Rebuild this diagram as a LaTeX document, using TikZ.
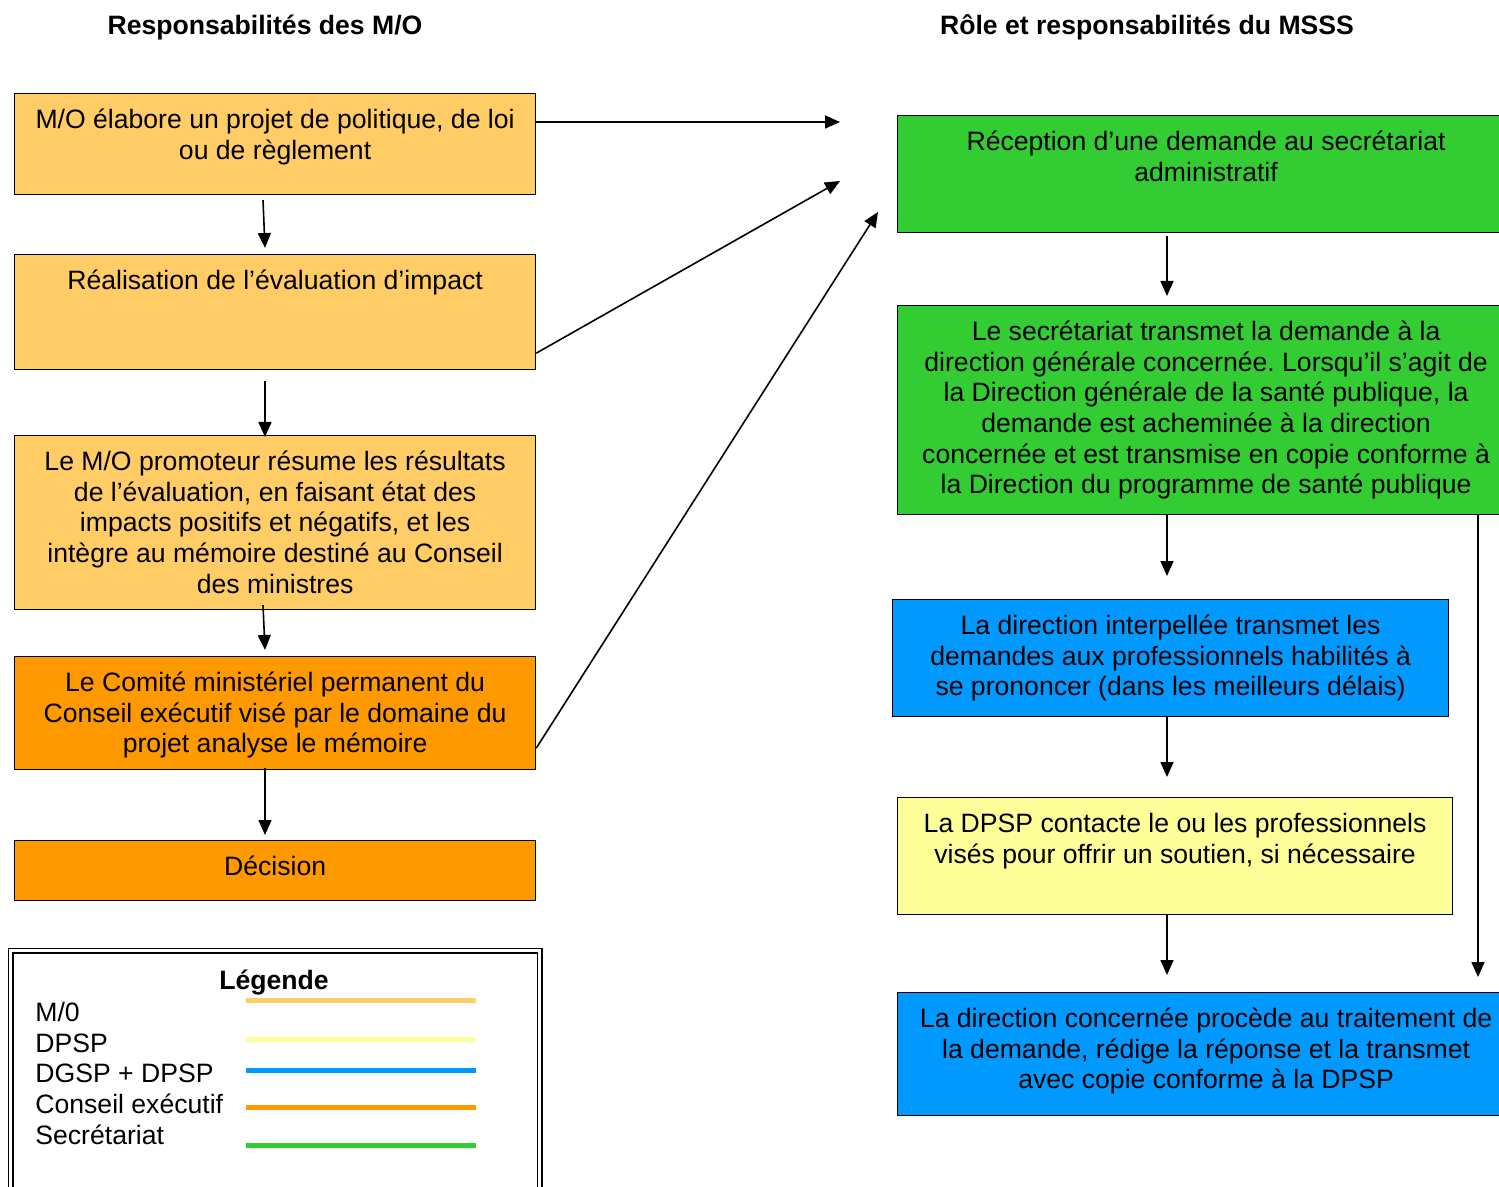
\documentclass[tikz,border=0pt]{standalone}
\usepackage{fontspec}
\setmainfont{Liberation Sans}
\usepackage{tikz}
\usetikzlibrary{arrows.meta, positioning, calc}
\definecolor{moclair}{HTML}{FFCC66}
\definecolor{conseilorange}{HTML}{FF9900}
\definecolor{secvert}{HTML}{33CC33}
\definecolor{dgspbleu}{HTML}{0099FF}
\definecolor{dpspjaune}{HTML}{FFFF99}
\newcommand{\corps}{\fontsize{13.3pt}{15.35pt}\selectfont}
\frenchspacing
\tikzset{
  boite/.style={draw, line width=0.6pt, anchor=north west, inner sep=0pt, minimum width=260.5pt},
  texte/.style={align=center, inner sep=0pt, font=\corps},
  fleche/.style={-{Triangle[length=7.5pt,width=6.5pt]}, line width=0.8pt},
  legtrait/.style={line width=2.5pt},
}

\begin{document}
\begin{tikzpicture}[x=0.5pt, y=-0.5pt]
  \useasboundingbox (0,0) rectangle (1499,1187);
  % titres des deux colonnes
  \node[texte, font=\corps\bfseries] (titreg) at (265,27.5) {Responsabilités des M/O};
  \node[texte, font=\corps\bfseries] (titred) at (1147,27.5) {Rôle et responsabilités du MSSS};

  % colonne M/O
  \node[boite, fill=moclair, minimum height=50.5pt] (mo1) at (14,93) {};
  \node[texte, below=6.75pt of mo1.north] (tmo1) {\strut M/O élabore un projet de politique, de loi\\ ou de règlement};
  \node[boite, fill=moclair, minimum height=57.5pt] (mo2) at (14,254) {};
  \node[texte, below=6.75pt of mo2.north] (tmo2) {\strut Réalisation de l’évaluation d’impact};
  \node[boite, fill=moclair, minimum height=87pt] (mo3) at (14,435) {};
  \node[texte, below=6.75pt of mo3.north] (tmo3) {\strut Le M/O promoteur résume les résultats\\ de l’évaluation, en faisant état des\\ impacts positifs et négatifs, et les\\ intègre au mémoire destiné au Conseil\\ des ministres};
  \node[boite, fill=conseilorange, minimum height=56.5pt] (mo4) at (14,656) {};
  \node[texte, below=6.75pt of mo4.north] (tmo4) {\strut Le Comité ministériel permanent du\\ Conseil exécutif visé par le domaine du\\ projet analyse le mémoire};
  \node[boite, fill=conseilorange, minimum height=30pt] (mo5) at (14,840) {};
  \node[texte, below=6.75pt of mo5.north] (tmo5) {\strut Décision};

  % colonne MSSS
  \node[boite, fill=secvert, minimum width=308.5pt, minimum height=58.5pt] (ms1) at (897,115) {};
  \node[texte, below=6.75pt of ms1.north] (tms1) {\strut Réception d’une demande au secrétariat\\ administratif};
  \node[boite, fill=secvert, minimum width=308.5pt, minimum height=104.5pt] (ms2) at (897,305) {};
  \node[texte, below=6.75pt of ms2.north] (tms2) {\strut Le secrétariat transmet la demande à la\\ direction générale concernée. Lorsqu’il s’agit de\\ la Direction générale de la santé publique, la\\ demande est acheminée à la direction\\ concernée et est transmise en copie conforme à\\ la Direction du programme de santé publique};
  \node[boite, fill=dgspbleu, minimum width=278pt, minimum height=58.5pt] (ms3) at (892,599) {};
  \node[texte, below=6.75pt of ms3.north] (tms3) {\strut La direction interpellée transmet les\\ demandes aux professionnels habilités à\\ se prononcer (dans les meilleurs délais)};
  \node[boite, fill=dpspjaune, minimum width=277.5pt, minimum height=58.5pt] (ms4) at (897,797) {};
  \node[texte, below=6.75pt of ms4.north] (tms4) {\strut La DPSP contacte le ou les professionnels\\ visés pour offrir un soutien, si nécessaire};
  \node[boite, fill=dgspbleu, minimum width=308.5pt, minimum height=61.5pt] (ms5) at (897,992) {};
  \node[texte, below=6.75pt of ms5.north] (tms5) {\strut La direction concernée procède au traitement de\\ la demande, rédige la réponse et la transmet\\ avec copie conforme à la DPSP};

  % fleches verticales
  \coordinate (axeg) at (265,0);
  \coordinate (axed) at (1167,0);
  \coordinate (axelat) at (1478,0);
  \draw[fleche] ($(mo1.south -| axeg)+(-2,5)$) -- ($(mo2.north -| axeg)+(0,-6)$);
  \draw[fleche] ($(mo2.south -| axeg)+(0,11)$) -- ($(mo3.north -| axeg)+(0,2)$);
  \draw[fleche] ($(mo3.south -| axeg)+(-2,-5)$) -- ($(mo4.north -| axeg)+(0,-6)$);
  \draw[fleche] ($(mo4.south -| axeg)+(0,-2)$) -- ($(mo5.north -| axeg)+(0,-5)$);
  \draw[fleche] ($(ms1.south -| axed)+(0,3)$) -- ($(ms2.north -| axed)+(0,-9)$);
  \draw[fleche] (ms2.south -| axed) -- ($(ms3.north -| axed)+(0,-23)$);
  \draw[fleche] (ms3.south -| axed) -- ($(ms4.north -| axed)+(0,-20)$);
  \draw[fleche] (ms4.south -| axed) -- ($(ms5.north -| axed)+(0,-17)$);
  \draw[fleche] (ms2.south -| axelat) -- ($(ms5.north -| axelat)+(0,-15)$);

  % fleches vers le secretariat
  \draw[fleche] ($(mo1.north east)+(0,29)$) -- ($(ms1.north west)+(-57,7)$);
  \draw[fleche] ($(mo2.south east)+(0,-17)$) -- ($(ms1.north west)+(-57,66)$);
  \draw[fleche] ($(mo4.south east)+(0,-22)$) -- ($(ms1.north west)+(-19,97)$);

  % legende
  \node[draw, double, double distance=1.5pt, line width=0.75pt, anchor=north west, inner sep=0pt, minimum width=264.5pt, minimum height=130pt] (legende) at (10,950) {};
  \node[texte, font=\corps\bfseries] (tleg) at (274,983) {Légende};
  \node[texte, anchor=base west] (lmo) at (35,1021) {M/0};
  \node[texte, anchor=base west] (ldpsp) at (35,1052) {DPSP};
  \node[texte, anchor=base west] (ldgsp) at (35,1082) {DGSP + DPSP};
  \node[texte, anchor=base west] (lconseil) at (35,1113) {Conseil exécutif};
  \node[texte, anchor=base west] (lsec) at (35,1144) {Secrétariat};
  \draw[legtrait, moclair] (246,1000) -- (476,1000);
  \draw[legtrait, dpspjaune] (246,1039) -- (476,1039);
  \draw[legtrait, dgspbleu] (246,1070) -- (476,1070);
  \draw[legtrait, conseilorange] (246,1107) -- (476,1107);
  \draw[legtrait, secvert] (246,1145) -- (476,1145);
\end{tikzpicture}
\end{document}
